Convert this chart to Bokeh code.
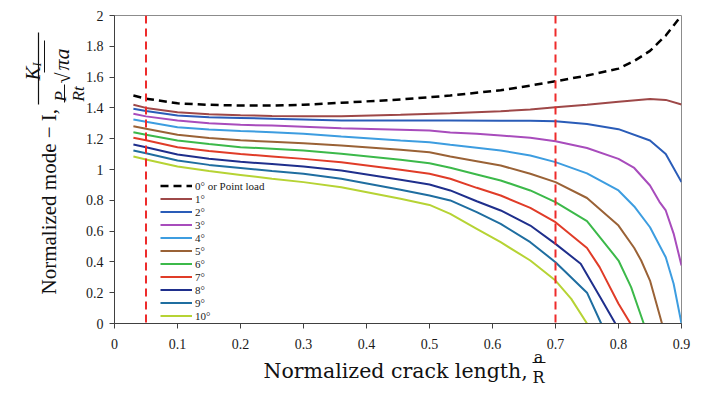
import math
from bokeh.plotting import figure
from bokeh.models import Span, FixedTicker, Range1d
from bokeh.core.properties import value
from bokeh.embed import file_html
from bokeh.resources import INLINE

# ---------------- data ----------------
X_COMMON = [0.03, 0.05, 0.1, 0.15, 0.2, 0.25, 0.3, 0.36, 0.454, 0.5, 0.533, 0.575, 0.613, 0.66, 0.7]

point_x = [0.03, 0.05, 0.1, 0.15, 0.2, 0.25, 0.3, 0.36, 0.454, 0.533, 0.613, 0.66, 0.7,
           0.75, 0.8, 0.825, 0.85, 0.8625, 0.875, 0.8875, 0.9]
point_y = [1.48, 1.46, 1.43, 1.42, 1.415, 1.415, 1.42, 1.433, 1.455, 1.48, 1.515, 1.545, 1.573,
           1.61, 1.655, 1.705, 1.77, 1.82, 1.87, 1.935, 2.0]

d1_x = [0.03, 0.05, 0.1, 0.15, 0.2, 0.25, 0.3, 0.36, 0.454, 0.533, 0.613, 0.66, 0.7,
        0.75, 0.8, 0.85, 0.875, 0.9]
d1_y = [1.42, 1.40, 1.372, 1.358, 1.352, 1.348, 1.346, 1.345, 1.355, 1.365, 1.378, 1.39, 1.405,
        1.42, 1.44, 1.458, 1.452, 1.422]

d2_x = [0.03, 0.05, 0.1, 0.15, 0.2, 0.25, 0.3, 0.36, 0.454, 0.533, 0.613, 0.66, 0.7,
        0.75, 0.8, 0.85, 0.875, 0.9]
d2_y = [1.395, 1.38, 1.35, 1.34, 1.335, 1.33, 1.325, 1.318, 1.318, 1.318, 1.317, 1.316, 1.314,
        1.295, 1.262, 1.188, 1.10, 0.918]

d3_x = X_COMMON + [0.75, 0.8, 0.825, 0.85, 0.865, 0.875, 0.8875, 0.9]
d3_y = [1.362, 1.345, 1.318, 1.30, 1.29, 1.285, 1.278, 1.268, 1.258, 1.253, 1.24, 1.232, 1.221,
        1.206, 1.184,
        1.14, 1.069, 1.01, 0.896, 0.79, 0.734, 0.584, 0.377]

d4_x = X_COMMON + [0.75, 0.8, 0.825, 0.85, 0.875, 0.8875, 0.9]
d4_y = [1.325, 1.31, 1.275, 1.26, 1.25, 1.242, 1.232, 1.214, 1.188, 1.177, 1.16, 1.141, 1.123,
        1.091, 1.048,
        0.975, 0.864, 0.76, 0.625, 0.43, 0.258, 0.0]

d5_x = X_COMMON + [0.75, 0.8, 0.825, 0.836, 0.85, 0.869]
d5_y = [1.281, 1.265, 1.225, 1.205, 1.19, 1.18, 1.17, 1.156, 1.128, 1.112, 1.084, 1.054, 1.026,
        0.972, 0.918,
        0.815, 0.636, 0.49, 0.409, 0.279, 0.0]

d6_x = X_COMMON + [0.75, 0.8, 0.82, 0.84]
d6_y = [1.242, 1.225, 1.188, 1.165, 1.145, 1.135, 1.123, 1.102, 1.063, 1.041, 1.011, 0.968, 0.929,
        0.864, 0.788,
        0.665, 0.409, 0.236, 0.0]

d7_x = X_COMMON + [0.75, 0.77, 0.8, 0.819]
d7_y = [1.206, 1.19, 1.145, 1.12, 1.10, 1.085, 1.069, 1.047, 0.998, 0.972, 0.94, 0.881, 0.831,
        0.751, 0.658,
        0.49, 0.366, 0.128, 0.0]

d8_x = X_COMMON + [0.74, 0.771, 0.795]
d8_y = [1.162, 1.145, 1.097, 1.07, 1.05, 1.035, 1.019, 0.994, 0.933, 0.903, 0.864, 0.794, 0.734,
        0.636, 0.517,
        0.388, 0.171, 0.0]

d9_x = X_COMMON + [0.75, 0.7725]
d9_y = [1.123, 1.105, 1.058, 1.03, 1.01, 0.99, 0.972, 0.94, 0.868, 0.831, 0.799, 0.723, 0.647,
        0.528, 0.398,
        0.2, 0.0]

d10_x = X_COMMON + [0.725, 0.75]
d10_y = [1.084, 1.065, 1.019, 0.99, 0.965, 0.94, 0.918, 0.885, 0.81, 0.77, 0.712, 0.615, 0.528,
         0.409, 0.279,
         0.16, 0.0]

series_labels = ["1°", "2°", "3°", "4°", "5°", "6°", "7°", "8°", "9°", "10°"]
series_x = [d1_x, d2_x, d3_x, d4_x, d5_x, d6_x, d7_x, d8_x, d9_x, d10_x]
series_y = [d1_y, d2_y, d3_y, d4_y, d5_y, d6_y, d7_y, d8_y, d9_y, d10_y]
series_colors = ["#9e4848", "#2a5cb8", "#a84cbc", "#3d9de0", "#9a6236",
                 "#3cb94a", "#e03c28", "#1f2f8c", "#1f6ea0", "#b6d334"]

marker_lines = [0.05, 0.7]

x_ticks = [0, 0.1, 0.2, 0.3, 0.4, 0.5, 0.6, 0.7, 0.8, 0.9]
x_tick_labels = ["0", "0.1", "0.2", "0.3", "0.4", "0.5", "0.6", "0.7", "0.8", "0.9"]
y_ticks = [0, 0.2, 0.4, 0.6, 0.8, 1.0, 1.2, 1.4, 1.6, 1.8, 2.0]
y_tick_labels = ["0", "0.2", "0.4", "0.6", "0.8", "1", "1.2", "1.4", "1.6", "1.8", "2"]

# ---------------- figure ----------------
W, H = 704, 397
L, R, T, B = 114, 23, 15, 74
XMIN, XMAX, YMIN, YMAX = 0.0, 0.9, 0.0, 2.0

p = figure(width=W, height=H, output_backend="svg", toolbar_location=None,
           x_range=Range1d(XMIN, XMAX), y_range=Range1d(YMIN, YMAX),
           min_border_left=L, min_border_right=R, min_border_top=T, min_border_bottom=B)
p.background_fill_color = "white"
p.border_fill_color = "white"
p.outline_line_color = "#8c8c8c"
p.outline_line_width = 1
p.xgrid.visible = False
p.ygrid.visible = False

serif = "Liberation Serif"
for ax, ticks, labels in ((p.xaxis[0], x_ticks, x_tick_labels), (p.yaxis[0], y_ticks, y_tick_labels)):
    ax.ticker = FixedTicker(ticks=ticks)
    ax.major_label_overrides = {t: s for t, s in zip(ticks, labels)}
    ax.major_tick_out = 5
    ax.major_tick_in = 0
    ax.minor_tick_out = 0
    ax.minor_tick_in = 0
    ax.axis_line_color = "#404040"
    ax.major_tick_line_color = "#404040"
    ax.major_label_text_font = serif
    ax.major_label_text_font_size = "14px"
    ax.major_label_text_color = "#1a1a1a"
p.xaxis.major_label_standoff = 10
p.yaxis.major_label_standoff = 6

# curves
p.line(point_x, point_y, line_color="black", line_width=2.5, line_dash="8 5",
       legend_label="0° or Point load")
for xs, ys, c, lab_ in zip(series_x, series_y, series_colors, series_labels):
    p.line(xs, ys, line_color=c, line_width=2, legend_label=lab_)

for loc in marker_lines:
    p.add_layout(Span(location=loc, dimension="height", line_color="#ee2b2b",
                      line_width=2, line_dash="8 5"))

leg = p.legend[0]
leg.location = (46, 1)
leg.padding = 0
leg.margin = 0
leg.spacing = 0
leg.glyph_height = 13
leg.label_height = 13
leg.glyph_width = 32
leg.label_standoff = 3
leg.label_text_font = serif
leg.label_text_font_size = "11px"
leg.label_text_line_height = 1.0
leg.label_text_color = "#1a1a1a"
leg.background_fill_alpha = 0
leg.border_line_alpha = 0

# ---------------- axis titles (placed in pixel terms, drawn unclipped) ----------------
def dx(px):
    return XMIN + (px - L) / (W - L - R) * (XMAX - XMIN)

def dy(py):
    return YMIN + (H - B - py) / (H - T - B) * (YMAX - YMIN)

def lab(px, py, text, size, font=serif, style="normal", angle=0.0, align="left"):
    p.text(x=[dx(px)], y=[dy(py)], text=[text], angle=angle, text_font=value(font),
           text_font_size=value(size), text_font_style=style, text_color="#111111",
           text_align=align, text_baseline="alphabetic", level="overlay")

def bar(px0, py0, px1, py1, w=1.2):
    p.segment(x0=[dx(px0)], y0=[dy(py0)], x1=[dx(px1)], y1=[dy(py1)],
              line_color="#111111", line_width=w, level="overlay")

up = math.pi / 2
# y title: "Normalized mode − I, K_I / (P/(Rt) √(πa))"
lab(48, 294, "Normalized mode − I,", "21px", angle=up)
bar(38, 104, 38, 32)
lab(32, 80, "K", "21px", style="italic", angle=up)
lab(36, 66, "I", "12px", style="italic", angle=up)
lab(60, 101, "P", "17px", style="italic", angle=up)
bar(64, 102, 64, 84, w=1)
lab(78, 101, "Rt", "17px", style="italic", angle=up)
lab(62, 83, "√", "20px", angle=up)
lab(61, 70, "πa", "22px", style="italic", angle=up)
bar(44, 72, 44, 40, w=1)

# x title: "Normalized crack length, a/R"
lab(263, 370, "Normalized crack length,", "20.5px", font="DejaVu Serif")
lab(538, 357, "a", "16px", font="DejaVu Serif", align="center")
bar(532, 362, 545, 362, w=1)
lab(538, 377, "R", "16px", font="DejaVu Serif", align="center")

open("out.html", "w").write(file_html(p, INLINE))
